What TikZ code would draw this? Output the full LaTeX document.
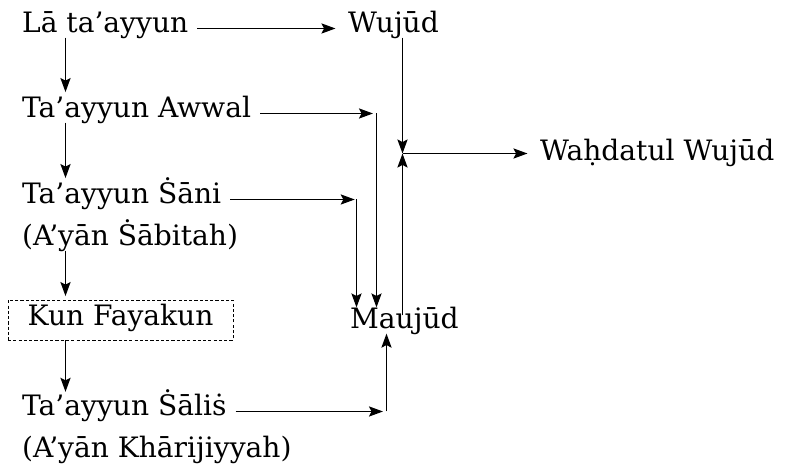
\documentclass[tikz,border=0pt]{standalone}
\usepackage{fontspec}
\setmainfont{DejaVu Serif}
\usepackage{tikz}
\usetikzlibrary{arrows.meta,positioning,calc}

\begin{document}
\begin{tikzpicture}[
  term/.style={anchor=base west,inner xsep=5pt,inner ysep=0pt,
               text height=0.7em,text depth=0.3em,
               font=\fontsize{16pt}{20pt}\selectfont},
  stage/.style={draw,dashed,dash pattern=on 1.8pt off 1.2pt,line width=0.5pt,
                minimum width=4.5cm,minimum height=0.8cm,inner sep=0pt,
                text height=0.85em,text depth=0.2em,
                font=\fontsize{16pt}{20pt}\selectfont},
  arr/.style={-{Stealth[length=8pt,width=5.8pt,inset=1.5pt]},line width=0.75pt},
]
\useasboundingbox (0,0) rectangle (15.72,9.40);

\node[term] (la) at (0.26,8.76) {Lā ta’ayyun};
\node[term] (wujud) at (6.78,8.76) {Wujūd};
\node[term] (awwal) at (0.26,7.06) {Ta’ayyun Awwal};
\node[term] (sani) at (0.26,5.34) {Ta’ayyun Ṡāni};
\node[term] (sabitah) at (0.26,4.50) {(A’yān Ṡābitah)};
\node[stage] (kun) at (2.41,3.00) {Kun Fayakun};
\node[term] (salis) at (0.26,1.10) {Ta’ayyun Ṡāliṡ};
\node[term] (kharij) at (0.26,0.26) {(A’yān Khārijiyyah)};
\node[term] (maujud) at (6.82,2.84) {Maujūd};
\node[term] (wahdat) at (10.62,6.20) {Waḥdatul Wujūd};

\coordinate (kx) at (1.31,0);
\coordinate (cs) at (7.13,0);
\coordinate (ca) at (7.53,0);
\coordinate (cl) at (7.73,0);
\coordinate (cw) at (8.05,6.33);

% left column
\draw[arr,shorten >=7pt] (la.south -| kx) -- (awwal.north -| kx);
\draw[arr,shorten >=7pt] (awwal.south -| kx) -- (sani.north -| kx);
\draw[arr,shorten >=2pt] (sabitah.south -| kx) -- (kun.north -| kx);
\draw[arr,shorten >=6pt] (kun.south -| kx) -- (salis.north -| kx);

\draw[arr,shorten >=2pt] (la.east) -- (wujud.west);
\draw[arr,shorten >=2pt] (awwal.east) -- (awwal.east -| ca);
\draw[arr,shorten >=4.5pt] (awwal.east -| ca) -- (maujud.north -| ca);
\draw[arr,shorten >=1pt] (sani.east) -- (sani.east -| cs);
\draw[arr,shorten >=4.5pt] (sani.east -| cs) -- (maujud.north -| cs);
\draw[arr,shorten >=2pt] (salis.east) -- (salis.east -| cl);
\draw[arr] (salis.east -| cl) -- (maujud.south -| cl);

% towards wahdatul wujud
\draw[arr] (wujud.south -| cw) -- (cw);
\draw[arr] (maujud.north -| cw) -- (cw);
\draw[arr,shorten >=2pt] (cw) -- (cw -| wahdat.west);
\end{tikzpicture}
\end{document}
